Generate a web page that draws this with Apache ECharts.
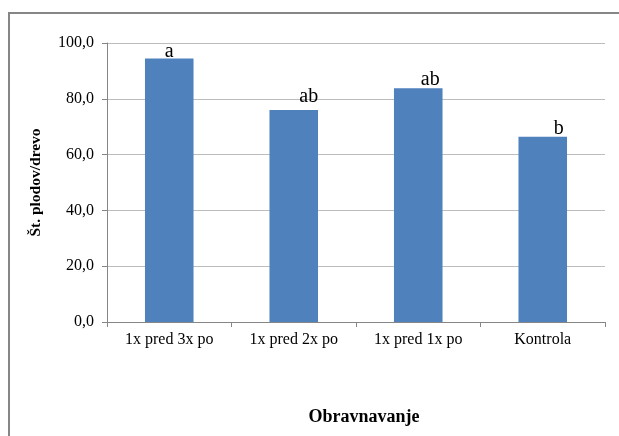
<!DOCTYPE html>
<html><head><meta charset="utf-8">
<script src="https://cdn.jsdelivr.net/npm/echarts@6/dist/echarts.min.js"></script>
<style>html,body{margin:0;padding:0;background:#fff}#c{width:619px;height:436px}</style>
</head><body><div id="c"></div>
<script>
const categories = ['1x pred 3x po', '1x pred 2x po', '1x pred 1x po', 'Kontrola'];
const values = [94.4, 76.0, 83.8, 66.4];
const letters = ['a', 'ab', 'ab', 'b'];
const yTicks = [0, 20, 40, 60, 80, 100];
const labelOffsets = [[0, 3], [15, -3], [12, 2], [16, 2]];

const serif = '"Liberation Serif", "Times New Roman", serif';
const chart = echarts.init(document.getElementById('c'));
chart.setOption({
  animation: false,
  grid: { left: 107, right: 14, top: 43, bottom: 114 },
  graphic: [{
    type: 'rect', shape: { x: 9, y: 13, width: 720, height: 500 },
    style: { fill: 'none', stroke: '#868686', lineWidth: 2 }, silent: true
  }],
  title: {
    text: 'Obravnavanje', left: 359, top: 403, textAlign: 'center',
    textStyle: { fontFamily: serif, fontWeight: 'bold', fontSize: 18, color: '#000' }
  },
  xAxis: {
    type: 'category', data: categories,
    axisLine: { lineStyle: { color: '#868686', width: 1 } },
    axisTick: { show: true, length: 5, lineStyle: { color: '#868686' } },
    axisLabel: { fontFamily: serif, fontSize: 16, color: '#000', margin: 10 }
  },
  yAxis: {
    type: 'value', min: yTicks[0], max: yTicks[yTicks.length - 1], interval: 20,
    name: 'Št. plodov/drevo', nameLocation: 'middle', nameGap: 63, nameRotate: 90,
    nameTextStyle: { fontFamily: serif, fontWeight: 'bold', fontSize: 15.5, color: '#000' },
    axisLine: { show: true, lineStyle: { color: '#868686' } },
    axisTick: { show: true, length: 5, lineStyle: { color: '#868686' } },
    axisLabel: { fontFamily: serif, fontSize: 16, color: '#000', margin: 13,
      formatter: v => v.toFixed(1).replace('.', ',') },
    splitLine: { lineStyle: { color: '#bdbdbd' } }
  },
  series: [{
    type: 'bar', barWidth: '39%',
    itemStyle: { color: '#4F81BD' },
    data: values.map((v, i) => ({
      value: v,
      label: { show: true, position: 'top', distance: 0, offset: labelOffsets[i],
        formatter: letters[i], fontFamily: serif, fontSize: 20, color: '#000' }
    }))
  }]
});
</script></body></html>
